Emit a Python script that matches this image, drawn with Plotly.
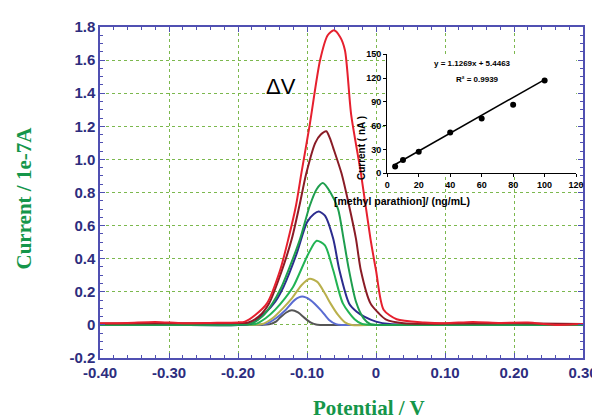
import numpy as np
import plotly.graph_objects as go

# ---------------- data ----------------
# main DPV curves: potential (V) and current (1e-7 A)
black_x = [-0.40, -0.30, -0.20, -0.165, -0.155, -0.145, -0.139, -0.130, -0.122, -0.113, -0.104, -0.095, -0.087, -0.080, -0.05, 0.0, 0.10, 0.20, 0.30]
black_y = [0.0, 0.0, 0.0, 0.0, 0.003, 0.02, 0.044, 0.075, 0.088, 0.075, 0.044, 0.015, 0.002, 0.0, 0.0, 0.0, 0.0, 0.0, 0.0]

lblue_x = [-0.40, -0.30, -0.20, -0.160, -0.145, -0.131, -0.118, -0.107, -0.095, -0.079, -0.068, -0.058, -0.050, 0.0, 0.10, 0.20, 0.30]
lblue_y = [0.0, 0.0, 0.0, 0.005, 0.04, 0.09, 0.15, 0.171, 0.15, 0.085, 0.03, 0.005, 0.0, 0.0, 0.0, 0.0, 0.0]

olive_x = [-0.40, -0.30, -0.20, -0.165, -0.150, -0.135, -0.122, -0.108, -0.096, -0.085, -0.074, -0.066, -0.055, -0.045, -0.035, 0.0, 0.10, 0.20, 0.30]
olive_y = [0.0, 0.0, 0.0, 0.005, 0.04, 0.10, 0.16, 0.24, 0.279, 0.26, 0.19, 0.13, 0.06, 0.015, 0.0, 0.0, 0.0, 0.0, 0.0]

green2_x = [-0.40, -0.30, -0.20, -0.175, -0.160, -0.146, -0.132, -0.120, -0.098, -0.086, -0.074, -0.062, -0.048, -0.031, -0.020, 0.0, 0.10, 0.20, 0.30]
green2_y = [0.0, 0.0, 0.0, 0.005, 0.04, 0.092, 0.16, 0.23, 0.43, 0.508, 0.48, 0.33, 0.13, 0.034, 0.005, 0.0, 0.0, 0.0, 0.0]

dblue_x = [-0.40, -0.30, -0.20, -0.180, -0.160, -0.146, -0.134, -0.115, -0.100, -0.090, -0.083, -0.074, -0.062, -0.053, -0.039, -0.028, -0.017, 0.0, 0.02, 0.10, 0.20, 0.30]
dblue_y = [0.0, 0.0, 0.0, 0.01, 0.075, 0.14, 0.23, 0.43, 0.62, 0.67, 0.685, 0.66, 0.52, 0.33, 0.13, 0.08, 0.05, 0.02, 0.005, 0.0, 0.0, 0.0]

green_x = [-0.40, -0.30, -0.20, -0.180, -0.165, -0.150, -0.138, -0.127, -0.110, -0.096, -0.086, -0.077, -0.066, -0.055, -0.047, -0.040, -0.029, -0.018, -0.008, 0.02, 0.10, 0.20, 0.30]
green_y = [0.0, 0.0, 0.0, 0.01, 0.05, 0.13, 0.22, 0.33, 0.52, 0.72, 0.82, 0.857, 0.80, 0.70, 0.52, 0.35, 0.14, 0.04, 0.005, 0.0, 0.0, 0.0, 0.0]

dred_x = [-0.40, -0.30, -0.20, -0.185, -0.170, -0.155, -0.138, -0.122, -0.111, -0.101, -0.088, -0.080, -0.072, -0.067, -0.062, -0.050, -0.039, -0.029, -0.022, -0.008, 0.004, 0.014, 0.04, 0.10, 0.20, 0.30]
dred_y = [0.008, 0.010, 0.012, 0.015, 0.05, 0.13, 0.31, 0.52, 0.72, 0.916, 1.10, 1.15, 1.17, 1.13, 1.07, 0.916, 0.72, 0.52, 0.33, 0.13, 0.07, 0.034, 0.010, 0.008, 0.010, 0.005]

red_x = [-0.40, -0.36, -0.32, -0.28, -0.24, -0.20, -0.19, -0.175, -0.158, -0.139, -0.127, -0.116, -0.108, -0.096, -0.081, -0.070, -0.061, -0.052, -0.045, -0.036, -0.022, -0.008, 0.0, 0.011, 0.03, 0.07, 0.10, 0.14, 0.18, 0.22, 0.26, 0.30]
red_y = [0.010, 0.012, 0.018, 0.010, 0.012, 0.015, 0.020, 0.060, 0.13, 0.33, 0.52, 0.72, 0.92, 1.21, 1.60, 1.75, 1.78, 1.74, 1.66, 1.27, 0.92, 0.52, 0.33, 0.092, 0.034, 0.015, 0.010, 0.018, 0.012, 0.014, 0.0, 0.005]

# inset calibration data
conc = [5, 10, 20, 40, 60, 80, 100]          # ng/mL
cur_nA = [8.5, 16.9, 27, 51.5, 69, 86.5, 117]  # nA
fit_slope = 1.1269
fit_intercept = 5.4463
eq_text = "y = 1.1269x + 5.4463"
r2_text = "R² = 0.9939"

# tick labels
x_tickvals = [-0.40, -0.30, -0.20, -0.10, 0.0, 0.10, 0.20, 0.30]
x_ticktext = ["-0.40", "-0.30", "-0.20", "-0.10", "0", "0.10", "0.20", "0.30"]
y_tickvals = [-0.2, 0.0, 0.2, 0.4, 0.6, 0.8, 1.0, 1.2, 1.4, 1.6, 1.8]
y_ticktext = ["-0.2", "0", "0.2", "0.4", "0.6", "0.8", "1.0", "1.2", "1.4", "1.6", "1.8"]
inset_xticks = [0, 20, 40, 60, 80, 100, 120]
inset_yticks = [0, 30, 60, 90, 120, 150]

# ---------------- figure ----------------
curves = [
    (black_x, black_y, "#555555"),
    (lblue_x, lblue_y, "#5a6cd2"),
    (olive_x, olive_y, "#b9b04c"),
    (green2_x, green2_y, "#22b354"),
    (dblue_x, dblue_y, "#2c2c8e"),
    (green_x, green_y, "#1e9e4e"),
    (dred_x, dred_y, "#8a1c26"),
    (red_x, red_y, "#e6202e"),
]

fig = go.Figure()
for xs, ys, col in curves:
    fig.add_trace(go.Scatter(x=xs, y=ys, mode="lines",
                             line=dict(color=col, width=2, shape="spline", smoothing=0.7),
                             showlegend=False, hoverinfo="skip"))

# inset
fig.add_trace(go.Scatter(x=conc, y=cur_nA, mode="markers",
                         marker=dict(color="black", size=6),
                         xaxis="x2", yaxis="y2", showlegend=False))
fx = [min(conc), max(conc)]
fy = [fit_slope * v + fit_intercept for v in fx]
fig.add_trace(go.Scatter(x=fx, y=fy, mode="lines", line=dict(color="black", width=1.5),
                         xaxis="x2", yaxis="y2", showlegend=False))

axis_col = "#5050b2"
tick_font = dict(family="Arial, Liberation Sans, sans-serif", size=15, color="#2d2d7e", weight="bold")
grid_col = "#7cb84e"
title_font = dict(family="Liberation Serif, Times New Roman, serif", size=21, color="#15964a")
inset_tick_font = dict(family="Arial, sans-serif", size=9, color="black", weight="bold")

fig.update_layout(
    width=600, height=419,
    margin=dict(l=92, r=17, t=10, b=69),
    paper_bgcolor="white", plot_bgcolor="white",
    xaxis=dict(range=[-0.40, 0.30], tickvals=x_tickvals, ticktext=x_ticktext,
               tickfont=tick_font, showline=True, linecolor=axis_col, linewidth=1.5,
               mirror="ticks", ticks="inside", ticklen=5, tickcolor=axis_col,
               minor=dict(dtick=0.02, ticks="inside", ticklen=3, tickcolor=axis_col, showgrid=False),
               showgrid=True, gridcolor=grid_col, griddash="dot", gridwidth=1,
               zeroline=False, fixedrange=True),
    yaxis=dict(range=[-0.2, 1.8], tickvals=y_tickvals, ticktext=y_ticktext,
               tickfont=tick_font, showline=True, linecolor=axis_col, linewidth=1.5,
               mirror="ticks", ticks="inside", ticklen=5, tickcolor=axis_col,
               minor=dict(dtick=0.05, ticks="inside", ticklen=3, tickcolor=axis_col, showgrid=False),
               showgrid=True, gridcolor=grid_col, griddash="dot", gridwidth=1,
               zeroline=False, fixedrange=True),
    xaxis2=dict(domain=[0.5947, 0.9857], anchor="y2", range=[0, 120], tickvals=inset_xticks,
                showline=True, linecolor="black", linewidth=1.2, ticks="outside", ticklen=3,
                tickcolor="black", showgrid=False, zeroline=False, tickfont=inset_tick_font),
    yaxis2=dict(domain=[0.558, 0.9176], anchor="x2", range=[0, 150], tickvals=inset_yticks,
                showline=True, linecolor="black", linewidth=1.2, ticks="outside", ticklen=3,
                tickcolor="black", showgrid=False, zeroline=False, tickfont=inset_tick_font),
)

annotations = [
    dict(text="<b>Current / 1e-7A</b>", xref="paper", yref="paper", x=-0.158, y=0.484,
         textangle=-90, showarrow=False, font=title_font, xanchor="center", yanchor="middle"),
    dict(text="<b>Potential / V</b>", xref="paper", yref="paper", x=0.556, y=-0.152,
         showarrow=False, font=title_font, xanchor="center", yanchor="middle"),
    dict(text="ΔV", xref="x", yref="y", x=-0.137, y=1.44, showarrow=False,
         font=dict(family="Arial, sans-serif", size=22, color="black")),
    dict(text="<b>" + eq_text + "</b>", xref="x2", yref="y2", x=54.4, y=138, showarrow=False,
         font=dict(family="Arial, sans-serif", size=8, color="black")),
    dict(text="<b>" + r2_text + "</b>", xref="x2", yref="y2", x=57.5, y=118, showarrow=False,
         font=dict(family="Arial, sans-serif", size=8, color="black")),
    dict(text="<b>Current ( nA )</b>", xref="paper", yref="paper", x=0.5418, y=0.736,
         textangle=-90, showarrow=False, font=dict(family="Arial, sans-serif", size=10, color="black")),
    dict(text="<b>[methyl parathion]/ (ng/mL)</b>", xref="paper", yref="paper", x=0.7695, y=0.4735,
         showarrow=False, font=dict(family="Arial, sans-serif", size=10.5, color="black")),
]
fig.update_layout(annotations=annotations)

fig.write_html("out.html")
